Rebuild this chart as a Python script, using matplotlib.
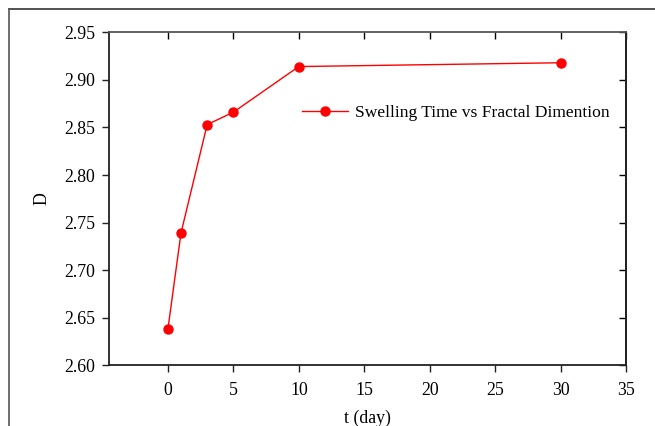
import matplotlib.pyplot as plt
from matplotlib.lines import Line2D

t_day = [0, 1, 3, 5, 10, 30]
fractal_d = [2.638, 2.739, 2.853, 2.866, 2.914, 2.918]
x_ticks = [0, 5, 10, 15, 20, 25, 30, 35]
y_ticks = [2.60, 2.65, 2.70, 2.75, 2.80, 2.85, 2.90, 2.95]

plt.rcParams.update({
    "font.family": "serif",
    "font.serif": ["Liberation Serif", "DejaVu Serif"],
    "font.size": 12.6,
})

fig = plt.figure(figsize=(6.55, 4.26), dpi=100)
ax = fig.add_axes([109 / 655, 1 - 365.3 / 426, (626 - 109) / 655, (365.3 - 32.3) / 426])

ax.plot(t_day, fractal_d, color="red", linewidth=1.0, marker="o",
        markersize=6.5, label="Swelling Time vs Fractal Dimention")

ax.set_xlim(-4.5, 35)
ax.set_ylim(2.60, 2.95)
ax.set_xticks(x_ticks)
ax.set_yticks(y_ticks)
ax.set_yticklabels([f"{v:.2f}" for v in y_ticks])
ax.tick_params(direction="out", length=5, width=1.0, color="#222222", labelsize=12.8)
ax.tick_params(axis="x", pad=7)
ax.tick_params(axis="y", pad=5)

top = ax.secondary_xaxis("top")
top.set_xticks(x_ticks)
top.tick_params(direction="in", length=5, width=1.0, labeltop=False)
right = ax.secondary_yaxis("right")
right.set_yticks(y_ticks)
right.tick_params(direction="in", length=5, width=1.0, labelright=False)

for s in ["left", "bottom", "right"]:
    ax.spines[s].set_linewidth(1.3)
    ax.spines[s].set_color("#222222")
ax.spines["top"].set_linewidth(1.3)
ax.spines["top"].set_color("#555555")
top.spines["top"].set_visible(False)
right.spines["right"].set_linewidth(1.3)
right.spines["right"].set_color("#222222")

ax.set_xlabel("t (day)", fontsize=12.8, labelpad=8)
ax.set_ylabel("D", fontsize=12.8, labelpad=10)

ax.legend(loc="upper left", bbox_to_anchor=(0.343, 0.83), frameon=False,
          handlelength=2.6, handletextpad=0.45, fontsize=12.6)

# outer frame around the figure (top and left edges)
fig.add_artist(Line2D([9 / 655, 1.0], [1 - 9 / 426, 1 - 9 / 426],
                      transform=fig.transFigure, color="#333333", linewidth=1.2))
fig.add_artist(Line2D([9 / 655, 9 / 655], [0, 1 - 9 / 426],
                      transform=fig.transFigure, color="#555555", linewidth=1.2))

fig.savefig("out.png", dpi=100)
